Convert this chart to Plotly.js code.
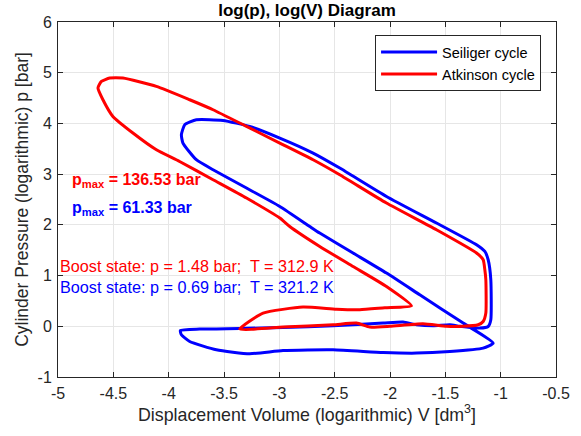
<!DOCTYPE html>
<html><head><meta charset="utf-8">
<script src="https://cdn.plot.ly/plotly-3.0.1.min.js"></script>
<style>html,body{margin:0;padding:0;background:#fff}#chart{width:581px;height:436px}</style>
</head><body><div id="chart"></div>
<script>
// Seiliger cycle (blue): log V, log p
const seiligerV = [-1.068,-1.339,-1.731,-2.032,-2.334,-2.635,-2.725,-2.996,-3.297,-3.599,-3.75,-3.871,-3.885,-3.855,-3.75,-3.509,-3.268,-2.996,-2.695,-2.454,-2.032,-1.58,-1.218,-1.143,-1.113,-1.089,-1.089,-1.113,-1.188,-1.369,-1.459,-1.61,-1.76,-1.882,-2.062,-2.514,-2.967,-3.358,-3.72,-3.894,-3.885,-3.81,-3.569,-3.268,-2.967,-2.514,-2.062,-1.76,-1.459,-1.158,-1.068];
const seiligerP = [-0.331,0.063,0.621,1.049,1.444,1.838,1.968,2.363,2.726,3.087,3.284,3.613,3.777,3.974,4.073,4.059,3.941,3.712,3.416,3.12,2.56,2.036,1.607,1.475,1.312,0.917,0.128,-0.004,-0.036,0.0,0.03,0.01,0.03,0.083,0.063,0.01,-0.024,-0.043,-0.055,-0.083,-0.168,-0.3,-0.464,-0.542,-0.477,-0.464,-0.517,-0.529,-0.497,-0.43,-0.331];
// Atkinson cycle (red): log V, log p
const atkinsonV = [-1.806,-2.032,-2.334,-2.635,-2.906,-2.996,-3.297,-3.599,-3.901,-4.111,-4.323,-4.504,-4.594,-4.639,-4.608,-4.533,-4.413,-4.111,-3.81,-3.599,-3.297,-2.996,-2.695,-2.454,-2.032,-1.58,-1.218,-1.158,-1.143,-1.134,-1.134,-1.158,-1.203,-1.339,-1.489,-1.703,-2.002,-2.183,-2.303,-2.514,-2.967,-3.358,-3.147,-2.786,-2.484,-2.273,-2.047,-1.806];
const atkinsonP = [0.404,0.785,1.18,1.574,1.968,2.134,2.529,2.89,3.25,3.481,3.811,4.138,4.467,4.698,4.828,4.895,4.895,4.73,4.467,4.27,3.941,3.613,3.284,2.988,2.43,1.903,1.444,1.312,1.114,0.917,0.26,0.095,0.03,0.0,0.0,0.05,0.0,-0.016,0.063,0.03,-0.016,-0.055,0.26,0.379,0.335,0.325,0.365,0.404];

const seriesNames = ['Seiliger cycle', 'Atkinson cycle'];
const xTickVals = [-5,-4.5,-4,-3.5,-3,-2.5,-2,-1.5,-1,-0.5];
const xTickText = ['-5','-4.5','-4','-3.5','-3','-2.5','-2','-1.5','-1','-0.5'];
const yTickVals = [-1,0,1,2,3,4,5,6];
const yTickText = ['-1','0','1','2','3','4','5','6'];

const pmaxAtkinson = '136.53';
const pmaxSeiliger = '61.33';
const boostAtkinson = {p: '1.48', T: '312.9'};
const boostSeiliger = {p: '0.69', T: '321.2'};

const FONT = 'Liberation Sans, Arial, Helvetica, sans-serif';
const traces = [
  {x: seiligerV, y: seiligerP, name: seriesNames[0], type: 'scatter', mode: 'lines',
   line: {color: '#0000ff', width: 3, shape: 'spline', smoothing: 0.5}},
  {x: atkinsonV, y: atkinsonP, name: seriesNames[1], type: 'scatter', mode: 'lines',
   line: {color: '#ff0000', width: 3, shape: 'spline', smoothing: 0.5}}
];

const axisCommon = {
  ticks: 'inside', ticklen: 5, tickcolor: '#262626', tickwidth: 1,
  showline: true, linecolor: '#262626', linewidth: 1, mirror: 'ticks',
  showgrid: true, gridcolor: '#e6e6e6', gridwidth: 1, zeroline: false,
  tickfont: {family: FONT, size: 16, color: '#262626'}
};

const layout = {
  width: 581, height: 436,
  margin: {l: 58, r: 25, t: 22, b: 59},
  paper_bgcolor: '#ffffff', plot_bgcolor: '#ffffff',
  font: {family: FONT, color: '#262626'},
  title: {text: '<b>log(p), log(V) Diagram</b>', font: {family: FONT, size: 17, color: '#000000'},
          x: 0.5, xref: 'paper', y: 0.976, yanchor: 'middle'},
  xaxis: Object.assign({}, axisCommon, {
    range: [-5, -0.5], tickvals: xTickVals, ticktext: xTickText, ticklabelstandoff: 2,
    title: {text: 'Displacement Volume (logarithmic) V [dm<sup>3</sup>]', font: {family: FONT, size: 17.8, color: '#262626'}, standoff: 6}
  }),
  yaxis: Object.assign({}, axisCommon, {
    range: [-1, 6], tickvals: yTickVals, ticktext: yTickText, ticklabelstandoff: 2,
    title: {text: 'Cylinder Pressure (logarithmic) p [bar]', font: {family: FONT, size: 17.5, color: '#262626'}, standoff: 4}
  }),
  showlegend: true,
  legend: {x: 0.970, y: 0.963, xanchor: 'right', yanchor: 'top',
           bgcolor: '#ffffff', bordercolor: '#262626', borderwidth: 1,
           font: {family: FONT, size: 14.5, color: '#000000'}, itemwidth: 56, tracegroupgap: 0},
  annotations: [
    {xref: 'x', yref: 'y', x: -4.895, y: 2.88, xanchor: 'left', yanchor: 'middle', showarrow: false,
     text: '<b>p<sub>max</sub> = ' + pmaxAtkinson + ' bar</b>', font: {family: FONT, size: 16, color: '#ff0000'}},
    {xref: 'x', yref: 'y', x: -4.895, y: 2.32, xanchor: 'left', yanchor: 'middle', showarrow: false,
     text: '<b>p<sub>max</sub> = ' + pmaxSeiliger + ' bar</b>', font: {family: FONT, size: 16, color: '#0000ff'}},
    {xref: 'x', yref: 'y', x: -5, y: 1.18, xanchor: 'left', yanchor: 'middle', showarrow: false,
     text: 'Boost state: p = ' + boostAtkinson.p + ' bar;\u00a0 T = ' + boostAtkinson.T + ' K', font: {family: FONT, size: 16.2, color: '#ff0000'}},
    {xref: 'x', yref: 'y', x: -5, y: 0.773, xanchor: 'left', yanchor: 'middle', showarrow: false,
     text: 'Boost state: p = ' + boostSeiliger.p + ' bar;\u00a0 T = ' + boostSeiliger.T + ' K', font: {family: FONT, size: 16.2, color: '#0000ff'}}
  ]
};

Plotly.newPlot('chart', traces, layout, {displayModeBar: false, staticPlot: true});
</script></body></html>
